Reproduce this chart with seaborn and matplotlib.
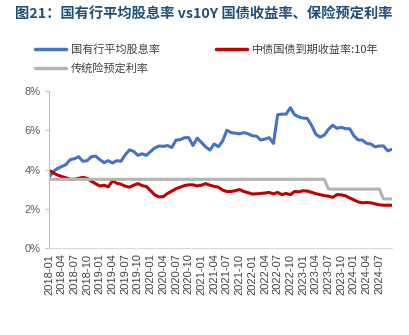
import matplotlib
matplotlib.use("Agg")
import matplotlib.pyplot as plt
import seaborn as sns
import pandas as pd
import numpy as np
from matplotlib.ticker import FuncFormatter, FixedLocator

# ---- data (monthly, 2018-01 .. 2024-10) ----
months = pd.period_range("2018-01", "2024-10", freq="M").strftime("%Y-%m").tolist()

dividend_yield = [
    3.60, 3.90, 4.05, 4.15, 4.25, 4.50, 4.55, 4.65, 4.42, 4.45,
    4.65, 4.68, 4.50, 4.35, 4.45, 4.33, 4.45, 4.42, 4.75, 5.00,
    4.92, 4.72, 4.80, 4.72, 4.92, 5.10, 5.20, 5.18, 5.22, 5.12,
    5.50, 5.52, 5.62, 5.62, 5.22, 5.60, 5.38, 5.15, 4.99, 5.30,
    5.16, 5.45, 6.00, 5.88, 5.85, 5.82, 5.88, 5.82, 5.72, 5.70,
    5.50, 5.55, 5.62, 5.33, 6.79, 6.82, 6.82, 7.15, 6.79, 6.68,
    6.62, 6.60, 6.25, 5.80, 5.65, 5.75, 6.05, 6.25, 6.10, 6.15,
    6.08, 6.08, 5.72, 5.50, 5.50, 5.33, 5.30, 5.15, 5.20, 5.20,
    4.95, 5.03,
]

bond_10y = [
    3.96, 3.83, 3.72, 3.64, 3.58, 3.50, 3.50, 3.55, 3.60, 3.55,
    3.40, 3.28, 3.16, 3.20, 3.12, 3.42, 3.30, 3.25, 3.15, 3.10,
    3.20, 3.28, 3.18, 3.13, 2.92, 2.70, 2.60, 2.62, 2.78, 2.90,
    3.02, 3.10, 3.18, 3.22, 3.22, 3.16, 3.20, 3.28, 3.20, 3.14,
    3.10, 2.95, 2.88, 2.88, 2.92, 2.98, 2.88, 2.82, 2.75, 2.76,
    2.78, 2.80, 2.83, 2.76, 2.83, 2.72, 2.78, 2.72, 2.88, 2.86,
    2.92, 2.90, 2.84, 2.77, 2.72, 2.67, 2.64, 2.58, 2.72, 2.71,
    2.66, 2.55, 2.45, 2.35, 2.30, 2.32, 2.30, 2.25, 2.20, 2.18,
    2.18, 2.18,
]

insurance_rate = [3.5] * 66 + [3.0] * 13 + [2.5] * 3

series_names = ["国有行平均股息率", "中债国债到期收益率:10年", "传统险预定利率"]
colors = ["#4472C4", "#C00000", "#B4B4B4"]

n = len(months)
df = pd.DataFrame({
    "idx": list(range(n)) * 3,
    "value": dividend_yield + bond_10y + insurance_rate,
    "series": [series_names[0]] * n + [series_names[1]] * n + [series_names[2]] * n,
})

sns.set_theme(style="white")
plt.rcParams["font.family"] = ["Liberation Sans", "Noto Sans CJK SC", "DejaVu Sans"]

fig = plt.figure(figsize=(4.09, 3.35), dpi=100)
ax = fig.add_axes([49 / 409, 1 - 248 / 335, (392 - 49) / 409, (248 - 91) / 335])

sns.lineplot(data=df, x="idx", y="value", hue="series", hue_order=series_names,
             palette=colors, linewidth=2.2, ax=ax, legend=False)

ax.set_xlim(0, n - 1)
ax.set_ylim(0, 8)
ax.set_xlabel("")
ax.set_ylabel("")

tick_pos = list(range(0, 79, 3))
ax.xaxis.set_major_locator(FixedLocator(tick_pos))
ax.set_xticklabels([months[i] for i in tick_pos], rotation=90, fontsize=8, color="#404040")
ax.set_yticks([0, 2, 4, 6, 8])
ax.yaxis.set_major_formatter(FuncFormatter(lambda v, p: f"{v:.0f}%"))
for lab in ax.get_yticklabels():
    lab.set_fontsize(8)
    lab.set_color("#595959")

ax.tick_params(axis="y", which="major", length=3, width=0.8, color="#BFBFBF", pad=3, left=True)
ax.tick_params(axis="x", which="major", length=0, pad=4)

for s in ["top", "right"]:
    ax.spines[s].set_visible(False)
ax.spines["left"].set_color("#BFBFBF")
ax.spines["left"].set_linewidth(0.8)
ax.spines["bottom"].set_color("#D9D9D9")
ax.spines["bottom"].set_linewidth(0.8)

# legend: row1 blue, red ; row2 gray
handles = [plt.Line2D([], [], color=c, linewidth=2.5) for c in colors]
order = [0, 2, 1]
leg = fig.legend([handles[i] for i in order], [series_names[i] for i in order],
                 ncol=2, loc="upper left", bbox_to_anchor=(35 / 409, 1 - 44 / 335),
                 frameon=False, handlelength=2.8, handletextpad=0.45,
                 columnspacing=5.0, labelspacing=0.75, borderpad=0, borderaxespad=0,
                 prop={"family": ["Noto Sans CJK SC", "DejaVu Sans"], "size": 8})
for t in leg.get_texts():
    t.set_color("#404040")

fig.text(15 / 409, 1 - 15 / 335, "图21：国有行平均股息率 vs10Y 国债收益率、保险预定利率",
         fontsize=10.3, fontweight="bold", color="#1F4E79", va="center", ha="left",
         family=["Noto Sans CJK SC", "DejaVu Sans"])

fig.savefig("out.png", dpi=100)
